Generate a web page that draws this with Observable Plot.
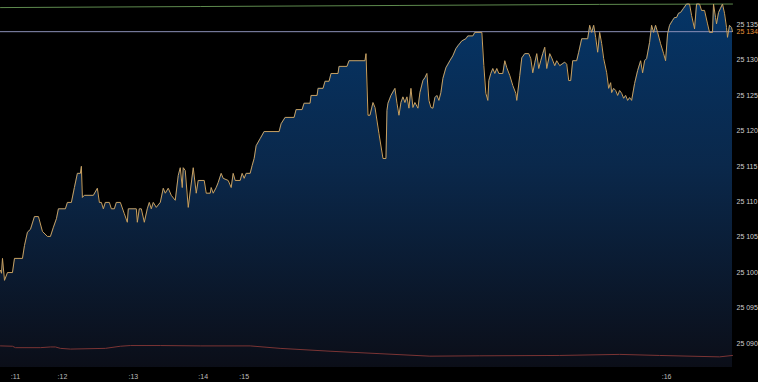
<!DOCTYPE html>
<html><head><meta charset="utf-8">
<script src="https://cdn.jsdelivr.net/npm/d3@7"></script>
<script src="https://cdn.jsdelivr.net/npm/@observablehq/plot@0.6"></script>
<style>
html,body{margin:0;padding:0;background:#000;}
#chart{width:758px;height:382px;overflow:hidden;}
</style></head><body><div id="chart"></div>
<script>
// price trace: [bar index, price]
const priceSeries = [[0,25100.3],[1,25099.9],[2,25102.0],[4,25098.9],[7,25100.0],[12,25100.0],[14,25102.0],[22,25102.0],[24,25103.8],[27,25105.7],[30,25106.1],[34,25107.9],[38,25107.9],[42,25105.8],[47,25105.1],[50,25105.1],[53,25106.4],[56,25107.6],[58,25109.0],[65,25109.0],[67,25109.9],[71,25109.9],[74,25112.0],[77,25114.0],[80,25114.0],[81,25115.0],[82,25110.6],[84,25110.9],[93,25110.9],[97,25111.9],[99,25109.9],[101,25109.9],[103,25109.0],[105,25109.9],[109,25109.9],[111,25109.0],[114,25109.0],[116,25109.9],[120,25109.9],[124,25108.3],[127,25107.1],[128,25109.0],[136,25109.0],[137,25107.1],[139,25109.0],[141,25109.0],[144,25107.1],[147,25109.0],[149,25109.9],[151,25109.0],[153,25109.9],[156,25109.2],[160,25109.9],[163,25111.9],[165,25111.2],[168,25111.9],[171,25110.9],[175,25110.2],[178,25113.7],[180,25114.8],[182,25112.0],[183,25114.8],[185,25114.4],[188,25109.2],[193,25114.8],[196,25111.2],[198,25113.0],[204,25113.0],[206,25111.2],[210,25111.2],[211,25112.0],[213,25111.2],[216,25112.0],[218,25112.7],[221,25114.0],[223,25113.3],[228,25113.0],[231,25112.0],[233,25114.0],[235,25113.0],[240,25113.0],[242,25114.0],[244,25113.3],[246,25114.0],[250,25114.0],[252,25115.1],[254,25116.1],[256,25117.9],[260,25118.9],[264,25119.9],[279,25119.9],[281,25121.0],[285,25121.9],[294,25121.9],[296,25123.0],[302,25123.0],[304,25123.9],[310,25123.9],[311,25125.0],[317,25125.0],[318,25126.0],[323,25126.0],[325,25127.0],[329,25127.0],[331,25128.1],[338,25128.1],[339,25129.1],[347,25129.1],[349,25129.9],[365,25129.9],[366,25130.9],[368,25122.2],[370,25122.2],[373,25124.0],[375,25123.3],[379,25119.6],[383,25116.1],[386,25116.1],[387,25122.9],[388,25123.9],[391,25125.0],[395,25126.0],[397,25123.9],[399,25122.2],[401,25124.0],[403,25124.8],[405,25124.0],[407,25124.8],[409,25123.2],[411,25126.0],[413,25123.3],[415,25124.0],[418,25123.2],[420,25125.4],[423,25127.1],[425,25127.5],[427,25128.1],[429,25124.3],[431,25123.3],[433,25123.2],[435,25124.7],[437,25125.0],[439,25124.3],[441,25125.4],[443,25127.4],[446,25128.9],[450,25129.9],[453,25130.6],[456,25131.6],[458,25132.0],[462,25132.7],[466,25133.0],[468,25133.4],[473,25133.4],[475,25133.9],[482,25133.9],[484,25129.2],[486,25125.3],[488,25124.3],[489,25127.1],[491,25128.1],[493,25128.8],[495,25128.1],[497,25128.8],[499,25128.1],[503,25128.1],[505,25129.9],[507,25128.9],[510,25127.8],[513,25126.4],[516,25125.3],[517,25124.3],[520,25127.8],[522,25130.3],[525,25130.9],[529,25130.9],[531,25130.2],[533,25128.2],[535,25129.6],[537,25130.9],[539,25128.8],[541,25129.9],[543,25130.9],[545,25131.8],[547,25128.8],[550,25130.9],[552,25130.3],[555,25129.2],[557,25129.9],[560,25129.2],[565,25129.7],[567,25129.4],[569,25127.1],[571,25127.1],[573,25129.9],[577,25129.9],[579,25131.1],[582,25133.0],[588,25133.0],[590,25134.9],[592,25133.9],[594,25134.9],[596,25133.2],[598,25131.1],[600,25133.9],[602,25132.3],[604,25130.2],[607,25128.2],[609,25126.0],[611,25126.8],[612,25125.4],[614,25126.0],[616,25125.7],[618,25125.0],[620,25125.7],[622,25125.3],[624,25124.6],[626,25125.0],[628,25124.3],[630,25124.7],[632,25124.3],[635,25126.7],[638,25128.5],[641,25129.9],[643,25128.2],[645,25129.9],[647,25130.2],[650,25132.5],[652,25134.9],[654,25133.9],[656,25134.9],[658,25133.9],[661,25132.3],[664,25130.9],[666,25129.9],[668,25133.7],[670,25134.9],[673,25135.6],[675,25136.0],[677,25136.0],[679,25136.6],[681,25136.7],[684,25137.3],[687,25137.9],[690,25137.9],[692,25136.3],[695,25134.4],[697,25137.9],[700,25137.9],[702,25137.0],[705,25137.0],[708,25135.1],[710,25133.9],[713,25133.9],[714,25137.9],[716,25136.0],[717,25135.1],[719,25136.7],[721,25137.3],[723,25137.9],[725,25136.6],[727,25134.6],[728,25133.2],[730,25134.9],[732,25134.6],[733,25134.0]];

const upperBand = [[0,25137.4],[200,25137.55],[400,25137.7],[600,25137.85],[733,25137.9]];
const lowerBand = [[0,25089.65],[12,25089.6],[15,25089.4],[40,25089.4],[50,25089.5],[55,25089.5],[60,25089.3],[70,25089.2],[105,25089.3],[120,25089.6],[130,25089.7],[160,25089.7],[200,25089.65],[250,25089.65],[280,25089.3],[330,25088.9],[380,25088.55],[430,25088.2],[480,25088.25],[560,25088.3],[620,25088.45],[660,25088.3],[720,25088.1],[733,25088.3]];

const lastPrice = 25134;
const yTicks = [25090, 25095, 25100, 25105, 25110, 25115, 25120, 25125, 25130, 25135];
const xTickBars = [15, 62, 133, 203, 244, 667];
const xTickLabels = [":11", ":12", ":13", ":14", ":15", ":16"];
const yDomain = [25086.6, 25138.4];
const xDomain = [0, 733];

const fmt = d3.formatLocale({decimal: ".", thousands: " ", grouping: [3], currency: ["", ""]}).format(",");
const labelMap = new Map(xTickBars.map((b, i) => [b, xTickLabels[i]]));
const price = priceSeries.map(([bar, v]) => ({bar, v}));
const upper = upperBand.map(([bar, v]) => ({bar, v}));
const lower = lowerBand.map(([bar, v]) => ({bar, v}));

const gradient = () => {
  const defs = d3.create("svg:defs");
  const g = defs.append("linearGradient").attr("id", "areaGrad")
    .attr("gradientUnits", "userSpaceOnUse").attr("x1", 0).attr("y1", 0).attr("x2", 0).attr("y2", 367);
  g.append("stop").attr("offset", "0").attr("stop-color", "#053567");
  g.append("stop").attr("offset", "0.45").attr("stop-color", "#0a284b");
  g.append("stop").attr("offset", "1").attr("stop-color", "#0b0e18");
  return defs.node();
};

const chart = Plot.plot({
  width: 758,
  height: 382,
  marginTop: 0,
  marginLeft: 0,
  marginRight: 26,
  marginBottom: 15,
  style: {background: "#000", color: "#cfcfcf", fontFamily: "'Liberation Sans', Arial, sans-serif", fontSize: "7px"},
  x: {domain: xDomain, axis: null},
  y: {domain: yDomain, axis: null},
  marks: [
    gradient,
    Plot.areaY(price, {x: "bar", y1: yDomain[0], y2: "v", fill: "url(#areaGrad)"}),
    Plot.ruleY([lastPrice], {stroke: "#8c90b8", strokeWidth: 1}),
    Plot.line(upper, {x: "bar", y: "v", stroke: "#5e8a4e", strokeWidth: 1}),
    Plot.line(lower, {x: "bar", y: "v", stroke: "#7a3434", strokeWidth: 1}),
    Plot.line(price, {x: "bar", y: "v", stroke: "#c8a060", strokeWidth: 1}),
    Plot.axisY(yTicks, {anchor: "right", label: null, tickSize: 0, tickPadding: 4, tickFormat: fmt, fill: "#cfcfcf", fontSize: 7}),
    Plot.text([lastPrice], {x: xDomain[1], y: d => d, text: d => fmt(d), dx: 4, dy: 0.5, textAnchor: "start", fill: "#e8953a", fontSize: 7}),
    Plot.axisX(xTickBars, {anchor: "bottom", label: null, tickSize: 0, tickPadding: 7, tickFormat: d => labelMap.get(d), fill: "#bdbdbd", fontSize: 7})
  ]
});
document.getElementById("chart").appendChild(chart);
</script>
</body></html>
